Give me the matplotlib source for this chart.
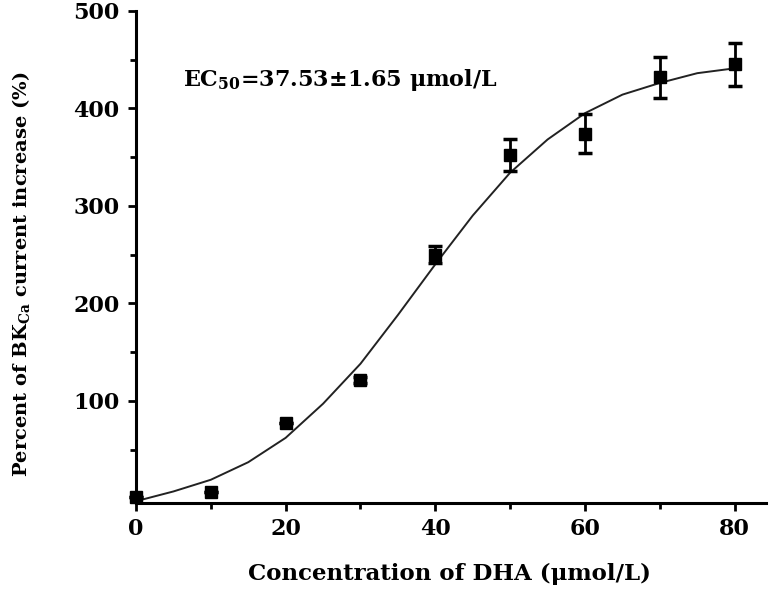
import matplotlib
matplotlib.use("Agg")
from matplotlib import pyplot as plt
from matplotlib.ticker import MultipleLocator, FixedLocator

plt.rcParams['font.family'] = ['DejaVu Serif']
plt.rcParams['font.weight'] = 'bold'
plt.rcParams['mathtext.fontset'] = 'custom'
plt.rcParams['mathtext.rm'] = 'DejaVu Serif:bold'

# measured points (mean +- error)
conc = [0, 10, 20, 30, 40, 50, 60, 70, 80]
percent = [1, 6, 77, 121, 250, 352, 374, 432, 445]
err = [0, 0, 0, 3, 9, 16, 20, 21, 22]

# fitted curve
fit_x = [0, 5, 10, 15, 20, 25, 30, 35, 40, 45, 50, 55, 60, 65, 70, 75, 80]
fit_y = [-3, 7, 19, 37, 62, 97, 138, 188, 240, 290, 334, 368, 395, 414, 426, 436, 441]

fig = plt.figure(figsize=(7.77, 5.99), dpi=100)
ax = fig.add_axes([0.175, 0.160, 0.811, 0.822])

ax.plot(fit_x, fit_y, color="#222222", linewidth=1.4)
ax.errorbar(conc, percent, yerr=err, fmt="s", color="black", markersize=9,
            elinewidth=2, capsize=5, capthick=2.5, clip_on=False)

ax.set_xlim(0, 84.2)
ax.set_ylim(-5, 500)

ax.spines['top'].set_visible(False)
ax.spines['right'].set_visible(False)
for s in ['left', 'bottom']:
    ax.spines[s].set_linewidth(2.2)

ax.xaxis.set_major_locator(MultipleLocator(20))
ax.xaxis.set_minor_locator(FixedLocator([10, 30, 50, 70]))
ax.yaxis.set_major_locator(FixedLocator([100, 200, 300, 400, 500]))
ax.yaxis.set_minor_locator(FixedLocator([50, 150, 250, 350, 450]))

ax.tick_params(which='major', direction='out', length=6, width=2, labelsize=16, pad=5)
ax.tick_params(which='minor', direction='out', length=4, width=2)
ax.tick_params(axis='y', which='major', pad=6)

ax.set_xlabel("Concentration of DHA (μmol/L)", fontsize=16.5, fontweight='bold')
ax.xaxis.set_label_coords(0.498, -0.122)
ax.set_ylabel(r"Percent of BK$_{\mathregular{Ca}}$ current increase (%)", fontsize=14,
              fontweight='bold')
ax.yaxis.set_label_coords(-0.163, 0.465)

ax.text(0.075, 0.86, r"EC$_{\mathregular{50}}$=37.53±1.65 μmol/L", transform=ax.transAxes,
        fontsize=16, fontweight='bold', va='center')

fig.savefig("out.png", dpi=100)
